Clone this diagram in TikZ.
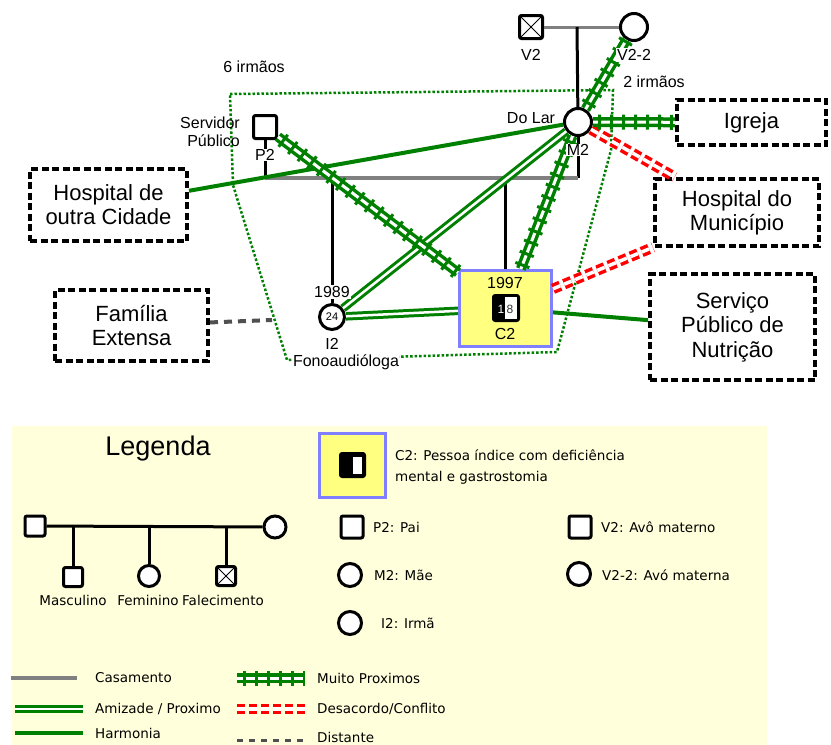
\documentclass[tikz,border=0pt]{standalone}
\usepackage{fontspec}
\setmainfont{Liberation Sans}
\newfontfamily\legfont{DejaVu Sans}
\definecolor{gg}{HTML}{008000}
\definecolor{rr}{HTML}{FF0000}
\definecolor{mgray}{HTML}{808080}
\definecolor{dgray}{HTML}{505050}
\definecolor{cbord}{HTML}{7F7FFF}
\definecolor{cfill}{HTML}{FFFF80}
\definecolor{legbg}{HTML}{FFFFDC}
\tikzset{
  male/.style={draw=black, line width=3pt, rectangle, rounded corners=2pt, fill=white, inner sep=0pt, minimum size=#1},
  male/.default=23pt,
  female/.style={draw=black, line width=3pt, circle, fill=white, inner sep=0pt, minimum size=#1},
  female/.default=27pt,
  deceased/.style={path picture={\draw[line width=1pt] (path picture bounding box.north west) -- (path picture bounding box.south east) (path picture bounding box.north east) -- (path picture bounding box.south west);}},
  ebox/.style={draw=black, line width=4pt, dash pattern=on 7pt off 3.5pt, fill=white, inner sep=0pt, align=center, font=\fontsize{22}{24}\selectfont},
  lbl/.style={font=\fontsize{16}{18}\selectfont, inner sep=1pt},
  wlbl/.style={lbl, fill=white},
  leg/.style={font=\legfont\fontsize{13.5}{21}\selectfont, inner sep=0pt, anchor=west, align=left},
  marr/.style={draw=mgray, line width=4pt},
  desc/.style={draw=black, line width=3pt},
  harm/.style={draw=gg, line width=4pt},
  amiz/.style={draw=gg, line width=3pt, double=white, double distance=2.5pt},
  mticks/.style={draw=gg, line width=15pt, dash pattern=on 3pt off 9pt, dash phase=7pt},
  mline/.style={draw=gg, line width=3.5pt, double=white, double distance=3pt},
  conf/.style={draw=rr, line width=3.5pt, double=white, double distance=3.5pt, dash pattern=on 8pt off 4pt},
  dist/.style={draw=dgray, line width=4pt, dash pattern=on 8pt off 6pt},
  house/.style={draw=gg, line width=2.5pt, dash pattern=on 2.5pt off 2pt},
}
\begin{document}
\begin{tikzpicture}[x=1pt,y=-1pt]
\useasboundingbox (0,0) rectangle (831,745);
\fill[white] (0,0) rectangle (831,745);
% legend background
\fill[legbg] (12,426) rectangle (767,745);

% household boundary
\draw[house] (230,94) -- (613,90) -- (611,150) -- (557,352) -- (287,360) -- (233,185) -- cycle;

% ---- persons ----
\node[male, deceased] (V2) at (531,27) {};
\node[female] (V22) at (634,27) {};
\node[female] (M2) at (578,122) {};
\node[male] (P2) at (265,127) {};
\node[female=25pt, font=\fontsize{11}{11}\selectfont] (I2) at (332,317) {24};
\node[draw=cbord, line width=3pt, fill=cfill, minimum width=92pt, minimum height=76pt, inner sep=0pt] (C2) at (505.5,308.5) {};
\node[fill=black, rounded corners=3pt, minimum width=28pt, minimum height=28pt, inner sep=0pt] (C2s) at (506,308) {};
\node[fill=white, minimum width=12pt, minimum height=22pt, inner sep=0pt] (C2w) at (511,308) {};
\node[font=\fontsize{12}{12}\selectfont, text=white, inner sep=0pt] (C2n1) at (501,309) {1};
\node[font=\fontsize{12}{12}\selectfont, text=black!80, inner sep=0pt] (C2n2) at (510,309) {8};
\node[lbl] (C2y) at (505,283) {1997};
\node[lbl] (C2l) at (505,334) {C2};

% ---- external systems ----
\node[ebox, minimum width=157pt, minimum height=72pt] (HC) at (108.5,205) {Hospital de\\outra Cidade};
\node[ebox, minimum width=153pt, minimum height=71pt] (FE) at (131.5,325.5) {Família\\Extensa};
\node[ebox, minimum width=149pt, minimum height=45pt] (IG) at (751.5,122.5) {Igreja};
\node[ebox, minimum width=164pt, minimum height=67pt] (HM) at (737,212.5) {Hospital do\\Município};
\node[ebox, minimum width=165pt, minimum height=106pt, font=\fontsize{22}{24.5}\selectfont] (SP) at (732.5,327) {Serviço\\Público de\\Nutrição};

% ---- coordinates ----
\coordinate (mV) at (577,27);
\coordinate (mP) at (265,178);
\coordinate (mM) at (578,178);
\coordinate (mI) at (332,178);
\coordinate (mC) at (505.5,178);
\coordinate (feEnd) at (272,320);

% ---- family lines ----
\draw[marr, line width=3pt] (V2) -- (V22);
\draw[desc] (mV) -- (M2);
\draw[desc] (M2) -- (mM);
\draw[desc] (P2) -- (mP);
\draw[marr] (mP) -- (mM);
\draw[desc] (mI) -- (I2);
\draw[desc] (mC) -- (C2);

% ---- relationship lines ----
\draw[harm] (HC) -- (M2);
\draw[amiz] (M2) -- (I2);
\draw[amiz] (I2) -- (C2);
\draw[harm] (C2) -- (SP);
\draw[conf] (M2) -- (HM);
\draw[conf] (C2) -- (HM);
\draw[dist] (FE) -- (feEnd);
\draw[mline] (P2) -- (C2);
\draw[mticks] (P2) -- (C2);
\draw[mline] (M2) -- (C2);
\draw[mticks] (M2) -- (C2);
\draw[mline] (M2) -- (V22);
\draw[mticks] (M2) -- (V22);
\draw[mline] (M2) -- (IG);
\draw[mticks] (M2) -- (IG);

% ---- labels ----
\node[lbl] (t6) at (254,67) {6 irmãos};
\node[lbl] (t2) at (654,82) {2 irmãos};
\node[lbl, align=right, anchor=east] (tsp) at (241,132) {Servidor\\Público};
\node[wlbl, inner sep=0.5pt] (tP2) at (265,155) {P2};
\node[lbl] (tDL) at (531,118) {Do Lar};
\node[wlbl, inner sep=0.5pt] (tM2) at (578,150) {M2};
\node[lbl] (tV2) at (531,55) {V2};
\node[wlbl, inner sep=1.5pt] (tV22) at (634,55) {V2-2};
\node[wlbl] (t1989) at (332,292) {1989};
\node[lbl] (tI2) at (332,344) {I2};
\node[wlbl, inner sep=0.5pt] (tFono) at (346,362) {Fonoaudióloga};

% ================= LEGEND =================
\node[font=\fontsize{27}{27}\selectfont] (Lt) at (158,449) {Legenda};

% genogram
\node[male=20pt] (LF) at (35,526) {};
\node[female=22pt] (LM) at (275,527) {};
\node[male=19pt] (LC1) at (73,577) {};
\node[female=21pt] (LC2) at (149,576) {};
\node[male=19pt, deceased] (LC3) at (226,576) {};
\coordinate (lv1) at (73,527);
\coordinate (lv2) at (149,527);
\coordinate (lv3) at (226,527);
\draw[desc] (LF) -- (LM);
\draw[desc] (lv1) -- (LC1);
\draw[desc] (lv2) -- (LC2);
\draw[desc] (lv3) -- (LC3);
\node[leg, anchor=center] (tMasc) at (73,600) {Masculino};
\node[leg, anchor=center] (tFem) at (148,600) {Feminino};
\node[leg, anchor=center] (tFal) at (223,600) {Falecimento};

% C2 key
\node[draw=cbord, line width=3pt, fill=cfill, minimum width=66pt, minimum height=64pt, inner sep=0pt] (LC2box) at (352.5,465.5) {};
\node[fill=black, rounded corners=3pt, minimum width=27pt, minimum height=26pt, inner sep=0pt] (LC2s) at (352.5,465) {};
\node[fill=white, minimum width=9pt, minimum height=17pt, inner sep=0pt] (LC2w) at (357.5,465.5) {};
\node[leg] (tC2) at (395,466.5) {C2: Pessoa índice com deficiência\\mental e gastrostomia};

% person keys
\node[male=22pt] (LP2) at (352,527) {};
\node[leg] (tLP2) at (373,527) {P2: Pai};
\node[male=22pt] (LV2) at (580,527) {};
\node[leg] (tLV2) at (601,527) {V2: Avô materno};
\node[female=23pt] (LM2) at (350,575) {};
\node[leg] (tLM2) at (374,575) {M2: Mãe};
\node[female=23pt] (LV22) at (579,574) {};
\node[leg] (tLV22) at (602,575) {V2-2: Avó materna};
\node[female=23pt] (LI2) at (350,623) {};
\node[leg] (tLI2) at (381,623) {I2: Irmã};

% line keys
\coordinate (lc1) at (11,678);  \coordinate (lc2) at (77,678);
\coordinate (la1) at (15,709);  \coordinate (la2) at (83,709);
\coordinate (lh1) at (15,733);  \coordinate (lh2) at (83,733);
\coordinate (lm1) at (237,678); \coordinate (lm2) at (305,678);
\coordinate (lx1) at (237,709); \coordinate (lx2) at (305,709);
\coordinate (ld1) at (237,740); \coordinate (ld2) at (305,740);
\draw[marr] (lc1) -- (lc2);
\draw[amiz] (la1) -- (la2);
\draw[harm] (lh1) -- (lh2);
\draw[mline] (lm1) -- (lm2);
\draw[mticks, dash phase=-6pt] (lm1) -- (lm2);
\draw[conf] (lx1) -- (lx2);
\draw[dist, line width=3pt, dash pattern=on 6pt off 6pt] (ld1) -- (ld2);
\node[leg] (tCas) at (95,678) {Casamento};
\node[leg] (tAmi) at (95,709) {Amizade / Proximo};
\node[leg] (tHar) at (95,733) {Harmonia};
\node[leg] (tMui) at (317,678) {Muito Proximos};
\node[leg] (tDes) at (317,709) {Desacordo/Conflito};
\node[leg] (tDis) at (317,737) {Distante};
\end{tikzpicture}
\end{document}
